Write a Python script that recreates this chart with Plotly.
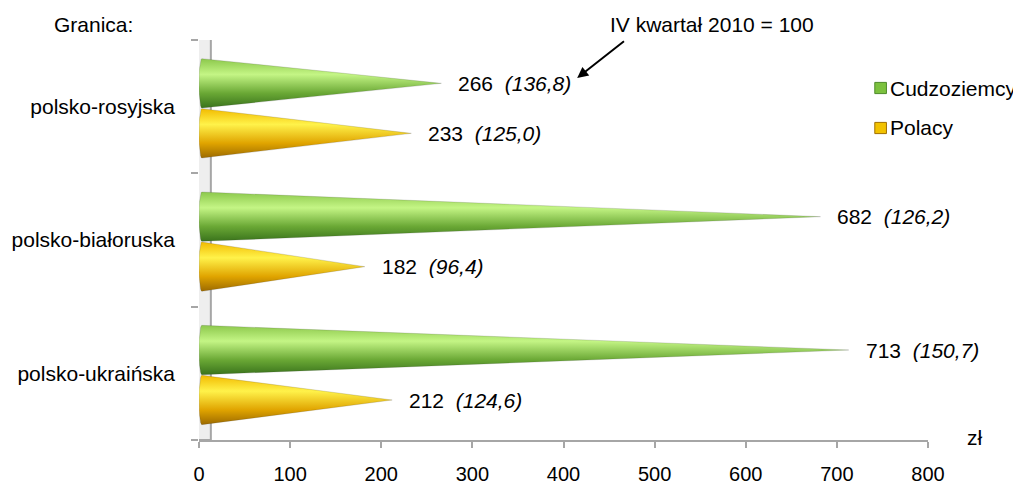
import numpy as np
import plotly.graph_objects as go

granice = ['polsko-ukraińska', 'polsko-białoruska', 'polsko-rosyjska']
cudzoziemcy = [713, 682, 266]
cudzoziemcy_idx = ['150,7', '126,2', '136,8']
polacy = [212, 182, 233]
polacy_idx = ['124,6', '96,4', '125,0']
x_ticks = [0, 100, 200, 300, 400, 500, 600, 700, 800]

FONT = 'Arial, Liberation Sans, sans-serif'
FS = 21
half = 0.185   # half height of one cone (category units)
off_c = 0.175  # cone axis above category centre (Cudzoziemcy)
off_p = -0.2   # cone axis below category centre (Polacy)

green_scale = [[0, '#3a731c'], [0.3, '#6aa835'], [0.68, '#c4f585'], [1, '#8cc84c']]
yellow_scale = [[0, '#9c6a00'], [0.3, '#e0a400'], [0.68, '#fff24a'], [1, '#f2bb00']]


def cone(value, yc):
  # triangle with a slightly rounded base, apex at the value
  t = np.linspace(-np.pi / 2, np.pi / 2, 15)
  bx = -3 * np.cos(t) + 3
  by = yc + half * np.sin(t)
  xs = list(bx) + [value] + [bx[0]]
  ys = list(by) + [yc] + [by[0]]
  return xs, ys


fig = go.Figure()

annotations = []
for i, g in enumerate(granice):
  yc = i + 0.5
  for val, idx, dy, scale in [(cudzoziemcy[i], cudzoziemcy_idx[i], off_c, green_scale),
                              (polacy[i], polacy_idx[i], off_p, yellow_scale)]:
    xs, ys = cone(val, yc + dy)
    fig.add_trace(go.Scatter(
      x=xs, y=ys, mode='lines', fill='toself',
      line=dict(width=0.5, color='rgba(60,60,60,0.35)'),
      fillgradient=dict(type='vertical', colorscale=scale),
      showlegend=False, hoverinfo='skip',
    ))
    annotations.append(dict(
      x=val, y=yc + dy, xref='x', yref='y', xanchor='left', yanchor='middle', xshift=15,
      text=f'{val}  <i>({idx})</i>', showarrow=False,
      font=dict(family=FONT, size=FS, color='black'),
    ))

# side wall
fig.add_shape(type='rect', xref='x', yref='y', x0=-4.5, x1=13, y0=0, y1=3.03,
              fillcolor='#eeeeee', line=dict(color='#a6a6a6', width=2), layer='below')

# legend (drawn by hand so the swatch sits right next to the text)
legend_items = [('Cudzoziemcy', '#7cc13e', '#4e8a2a', 0.88),
                ('Polacy', '#f2c200', '#a07000', 0.78)]
for name, fill, edge, ly in legend_items:
  fig.add_shape(type='rect', xref='paper', yref='paper',
                x0=0.927, x1=0.943, y0=ly - 0.014, y1=ly + 0.014,
                fillcolor=fill, line=dict(color=edge, width=1))
  annotations.append(dict(x=0.9455, y=ly, xref='paper', yref='paper',
                          xanchor='left', yanchor='middle',
                          text=name, showarrow=False,
                          font=dict(family=FONT, size=FS, color='black')))

annotations += [
  dict(x=-0.202, y=1.0375, xref='paper', yref='paper', xanchor='left', yanchor='middle',
       text='Granica:', showarrow=False, font=dict(family=FONT, size=FS, color='black')),
  dict(x=0.561, y=1.0375, xref='paper', yref='paper', xanchor='left', yanchor='middle',
       text='IV kwartał 2010 = 100', showarrow=False,
       font=dict(family=FONT, size=FS, color='black')),
  dict(x=415, y=2.715, xref='x', yref='y', ax=468, ay=3.0, axref='x', ayref='y',
       text='', showarrow=True, arrowhead=2, arrowsize=1.1, arrowwidth=2, arrowcolor='black'),
  dict(x=1.0505, y=0.0075, xref='paper', yref='paper', xanchor='left', yanchor='middle',
       text='zł', showarrow=False, font=dict(family=FONT, size=FS, color='black')),
]

# the page adds an 8 px body margin, so the figure is 8 px smaller and shifted
fig.update_layout(
  width=1013, height=476,
  margin=dict(l=191, r=93, t=32, b=44),
  paper_bgcolor='white', plot_bgcolor='white',
  font=dict(family=FONT, size=FS, color='black'),
  annotations=annotations,
  showlegend=False,
  xaxis=dict(range=[0, 800], tickvals=x_ticks, showgrid=False, zeroline=False,
             showline=True, linecolor='#a6a6a6', linewidth=2, automargin=False,
             ticks='outside', ticklen=6, tickcolor='#a6a6a6', tickwidth=2,
             tickfont=dict(size=20), ticklabelstandoff=9, fixedrange=True),
  yaxis=dict(range=[0, 3], tickvals=[0.5, 1.5, 2.5], ticktext=granice,
             showgrid=False, zeroline=False, showline=False, ticks='',
             ticklabelstandoff=23, automargin=False,
             minor=dict(tickvals=[0, 1, 2, 3], ticks='outside', ticklen=7,
                        tickcolor='#a6a6a6', tickwidth=2, showgrid=False)),
)

fig.write_html("out.html")
